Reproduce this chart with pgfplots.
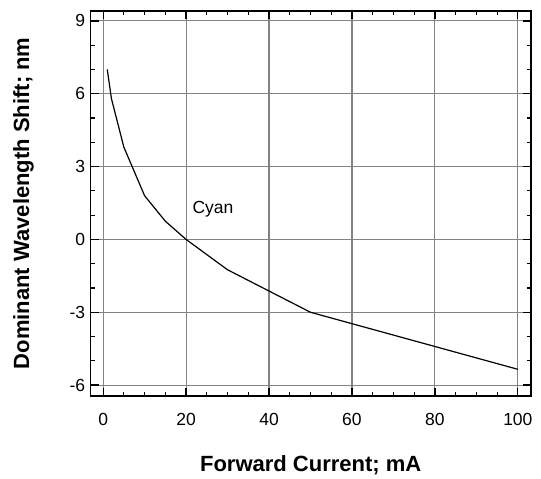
\documentclass[border=0pt]{standalone}
\usepackage{pgfplots}
\pgfplotsset{compat=1.18}
\usepackage{fontspec}
\setmainfont{Liberation Sans}
\begin{document}
\begin{tikzpicture}
\begin{axis}[
  scale only axis,
  width=440pt, height=385.3pt,
  xmin=-3, xmax=103.1,
  ymin=-6.45, ymax=9.42,
  xtick={0,20,40,60,80,100},
  ytick={-6,-3,0,3,6,9},
  minor x tick num=3,
  minor y tick num=2,
  tick align=inside,
  major tick length=8pt,
  minor tick length=4pt,
  every tick/.style={black, line width=1.2pt},
  axis line style={line width=1.6pt},
  grid=major,
  major grid style={color={rgb,255:red,130;green,130;blue,130}, line width=1.1pt},
  /pgf/number format/assume math mode=true,
  tick label style={font=\fontsize{17.5}{20}\selectfont},
  xticklabel style={yshift=-14pt},
  yticklabel style={xshift=-2pt},
  xlabel={Forward Current; mA},
  ylabel={Dominant Wavelength Shift; nm},
  label style={font=\fontsize{22}{26}\selectfont\bfseries},
  xlabel style={at={(axis description cs:0.5,-0.179)}, anchor=center},
  ylabel style={at={(axis description cs:-0.153,0.5)}, anchor=center},
  clip=false,
]
\addplot[black, line width=1.2pt] coordinates {
(1,7) (2,5.8) (5,3.8) (10,1.8) (15,0.75) (20,0) (30,-1.25) (50,-3) (100,-5.35)
};
\node[font=\fontsize{17.5}{20}\selectfont] at (axis cs:26.5,1.25) {Cyan};
\path (rel axis cs:-0.2061,-0.2076) rectangle (rel axis cs:1.0234,1.0278);
\end{axis}
\end{tikzpicture}
\end{document}
